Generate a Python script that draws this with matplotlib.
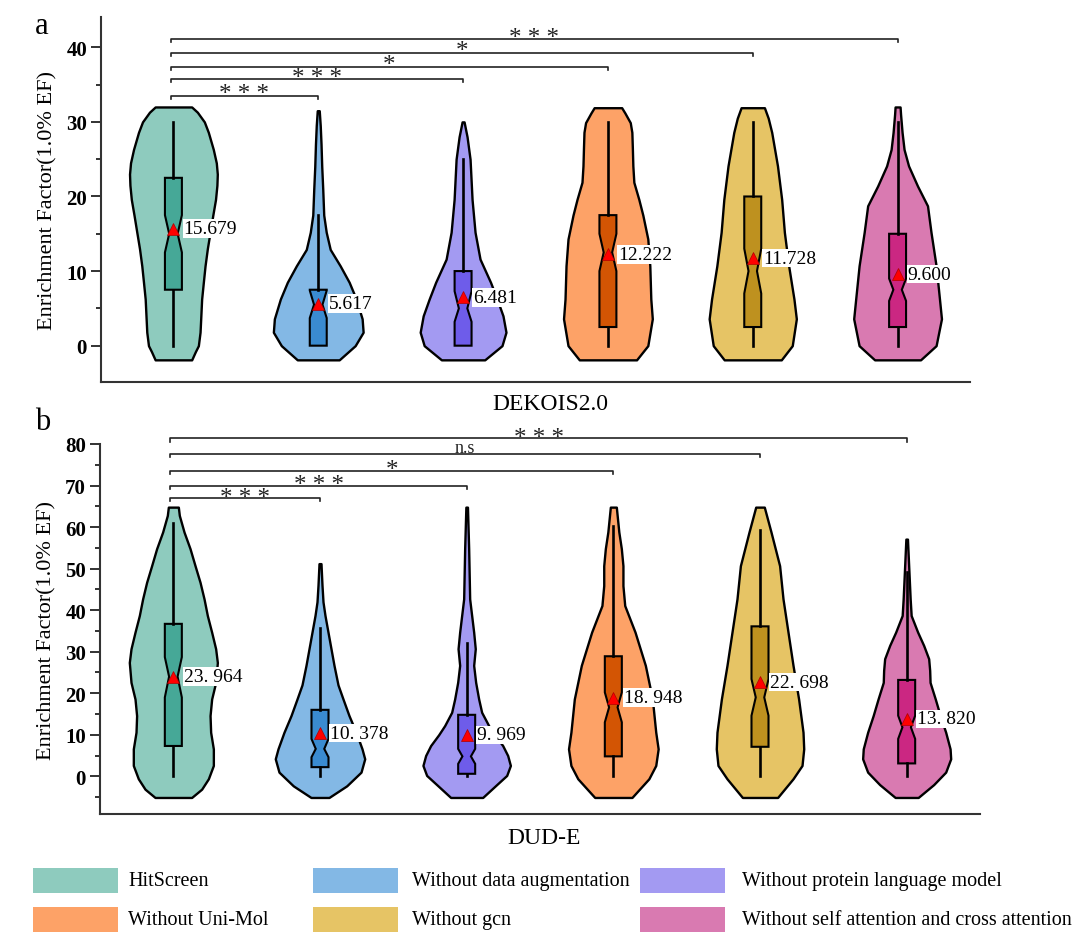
import matplotlib
matplotlib.use("Agg")
import matplotlib.pyplot as plt
from matplotlib.patches import Rectangle
from matplotlib.ticker import MultipleLocator
from matplotlib.textpath import TextPath
from matplotlib.font_manager import FontProperties

plt.rcParams['font.family'] = ['Liberation Serif', 'DejaVu Serif']

# ---------------- data ----------------
groups = ['HitScreen', 'Without data augmentation', 'Without protein language model',
          'Without Uni-Mol', 'Without gcn', 'Without self attention and cross attention']
violin_colors = ['#8ECBBE', '#83B8E5', '#A39AF2', '#FDA267', '#E6C465', '#D97AB1']
box_colors = ['#46A897', '#3A8BD0', '#6E5CEA', '#D35504', '#BE911F', '#CB2782']

# Panel a: DEKOIS2.0
a_means = [15.679, 5.617, 6.481, 12.222, 11.728, 9.600]
a_med = [15.0, 5.5, 5.0, 12.5, 10.0, 7.5]
a_q1 = [7.5, 0.0, 0.0, 2.5, 2.5, 2.5]
a_q3 = [22.5, 7.5, 10.0, 17.5, 20.0, 15.0]
a_whislo = [0, 0, 0, 0, 0, 0]
a_whishi = [30.0, 17.5, 25.0, 30.0, 30.0, 30.0]
a_cilo = [12.5, 3.7, 3.2, 10.0, 7.0, 6.0]
a_cihi = [17.5, 7.4, 7.3, 15.0, 13.0, 9.0]

# violin outlines (y level, relative density)
a_vy = [
    [-1.9, -0.8, 0, 1.8, 4, 6.25, 8.5, 10.7, 13, 15.2, 17.5, 19.6, 21.5, 23, 24.5, 26.3, 28.6, 30.0, 31.3, 32.0],
    [-1.9, 0, 1.8, 3.6, 6.25, 8.5, 10.7, 12.9, 15.2, 17.5, 21, 24, 27, 29.5, 31.5],
    [-1.9, 0, 1.8, 4.0, 6.25, 8.5, 11.6, 15.2, 19.6, 25, 28, 30],
    [-1.9, 0, 3.6, 6.25, 10.7, 14.3, 17.5, 19.6, 21.9, 24.1, 26.5, 28.6, 29.9, 31.2, 31.9],
    [-1.9, 0, 3.6, 6.25, 10.7, 15.2, 19.6, 24.1, 28.6, 30.5, 31.9],
    [-1.9, 0, 3.6, 6.25, 10.7, 15.2, 18.75, 21.4, 24.1, 26.3, 28.6, 31, 32],
]
a_vw = [
    [18.3, 22, 25, 26.7, 27.5, 28.3, 30, 31.7, 34, 36.7, 39.5, 42.2, 43.6, 44, 43, 40, 35, 31, 24, 18.3],
    [21, 37, 45, 44, 38, 31, 22, 12, 8, 5.5, 4.5, 3.5, 2.8, 2, 1.0],
    [21.7, 39, 43, 40, 34, 27.5, 17, 12, 9, 7, 4, 1],
    [28.7, 40, 44.5, 43, 42, 40, 35, 31, 26, 25, 24.5, 24, 22.4, 17, 13.8],
    [28.6, 39.6, 43.7, 41.3, 36, 31.7, 29, 24.8, 19, 15.5, 11.7],
    [23, 38.6, 44, 42, 38.6, 33.5, 30, 20, 11, 6.5, 4.5, 3, 2.5],
]

# Panel b: DUD-E
b_means = [23.964, 10.378, 9.969, 18.948, 22.698, 13.820]
b_med = [24.0, 6.6, 4.8, 16.6, 19.0, 11.8]
b_q1 = [7.3, 2.2, 0.6, 4.8, 7.1, 3.1]
b_q3 = [36.7, 16.0, 14.8, 28.9, 36.1, 23.2]
b_whislo = [0, 0, 0, 0, 0, 0]
b_whishi = [61.0, 35.6, 32.0, 60.2, 59.4, 49.1]
b_cilo = [19.0, 4.6, 3.0, 13.0, 14.6, 9.0]
b_cihi = [28.7, 9.0, 6.6, 20.2, 23.4, 14.6]

b_vy = [
    [-5.1, -3.1, -0.6, 2.6, 6.6, 10.6, 14.6, 18.6, 22.6, 27.4, 30.7, 34.7, 38.7, 42.7, 46.7, 50.7, 54.8, 58.8, 62.8, 64.8],
    [-5.1, -2.3, 1.0, 4.2, 6.6, 10.6, 14.6, 18.6, 22, 26.7, 30.7, 34.7, 38.7, 42, 46, 51.2],
    [-5.1, -2.0, 0.2, 2.6, 5, 7.4, 10, 12.2, 15.4, 18.6, 22.6, 26.7, 30.7, 34.7, 42.7, 54.8, 64.8],
    [-5.1, -0.6, 2.6, 6.6, 10.6, 18.6, 26.7, 34.7, 41.1, 45.9, 50.7, 54.8, 58.8, 64.8],
    [-5.1, -0.6, 2.6, 6.6, 10.6, 18.6, 26.7, 34.7, 42.7, 50.7, 58.8, 64.8],
    [-5.1, -2, 1.0, 4.2, 6.6, 10.6, 14.6, 18.6, 22.6, 25.5, 28.3, 31.5, 34.7, 38.7, 42.7, 50.7, 57.1],
]
b_vw = [
    [18.3, 28.3, 35, 40, 40, 37.3, 36.7, 38.3, 42.3, 44, 42.3, 38.3, 34, 30.7, 26.7, 21.7, 16.7, 10.7, 6, 5],
    [9, 26.7, 41, 44.7, 42, 36, 29, 23, 18, 14, 11, 8, 5, 3, 2, 1],
    [16, 30, 40, 43.7, 41, 36, 28, 22, 15, 12, 9, 7, 8.6, 7, 3, 2, 0.8],
    [18.6, 35.5, 42.4, 44.8, 42.4, 39, 32, 21.7, 11.4, 9.6, 9.6, 8, 5.5, 3],
    [17.6, 33, 42, 43.7, 43, 38.6, 33, 28, 23, 19.6, 11, 4.3],
    [11.5, 27, 39, 44, 43.4, 39, 33.5, 28.6, 23.4, 23, 22, 17, 11, 4.5, 3.5, 2, 0.8],
]

# significance comparisons (HitScreen vs. each other group)
a_sig_labels = ['* * *', '* * *', '*', '*', '* * *']
a_sig_heights = [33.5, 35.75, 37.4, 39.3, 41.1]
b_sig_labels = ['* * *', '* * *', '*', 'n.s', '* * *']
b_sig_heights = [67.0, 70.0, 73.6, 77.7, 81.4]

# legend layout: columns of group indices
legend_cols = [[0, 3], [1, 4], [2, 5]]

# ---------------- drawing ----------------
positions = [1, 2, 3, 4, 5, 6]
W, H = 1080, 953
fig = plt.figure(figsize=(W / 100, H / 100), dpi=100)


def fx(x):
    return x / W


def fy(y):
    return 1 - y / H


STAR_FS = 18
NS_FS = 13
_fp = FontProperties(family='Liberation Serif')


def ink_bottom(s, size):
    return TextPath((0, 0), s, size=size, prop=_fp).get_extents().y0


ax_a = fig.add_axes([fx(101), fy(383), fx(970) - fx(101), fy(18) - fy(383)])
ax_b = fig.add_axes([fx(100), fy(815), fx(980) - fx(100), fy(445) - fy(815)])


def draw_panel(ax, vy, vw, means, med, q1, q3, wlo, whi, cilo, cihi, ppu, ylim,
               sig_labels, sig_heights, tick_len, star_gap_pt, ns_gap_pt, fmt,
               xlabel, xlab_x, xlab_y):
    vpstats, widths = [], []
    for i in range(6):
        vpstats.append(dict(coords=vy[i], vals=vw[i], mean=means[i], median=med[i],
                            min=min(vy[i]), max=max(vy[i])))
        widths.append(2 * max(vw[i]) / ppu)
    parts = ax.violin(vpstats, positions=positions, widths=widths,
                      showmeans=False, showextrema=False, showmedians=False)
    for body, c in zip(parts['bodies'], violin_colors):
        body.set_facecolor(c)
        body.set_edgecolor('black')
        body.set_linewidth(1.7)
        body.set_alpha(1)
        body.set_zorder(1)
        body.set_joinstyle('round')

    bstats = [dict(med=med[i], q1=q1[i], q3=q3[i], whislo=wlo[i], whishi=whi[i],
                   cilo=cilo[i], cihi=cihi[i], mean=means[i], fliers=[]) for i in range(6)]
    bp = ax.bxp(bstats, positions=positions, widths=17.0 / ppu, shownotches=True,
                showmeans=True, showcaps=False, showfliers=False, patch_artist=True,
                manage_ticks=False,
                boxprops=dict(linewidth=1.5, edgecolor='black'),
                whiskerprops=dict(linewidth=1.9, color='black'),
                medianprops=dict(linewidth=0),
                meanprops=dict(marker='^', markerfacecolor='#FF0000', markeredgecolor='#B00000',
                               markersize=9, markeredgewidth=0.5),
                zorder=3)
    for patch, c in zip(bp['boxes'], box_colors):
        patch.set_facecolor(c)
    for m in bp['means']:
        m.set_zorder(6)

    for i in range(6):
        ax.text(positions[i] + 0.07, means[i], fmt(means[i]), fontsize=14, ha='left', va='center',
                bbox=dict(facecolor='white', edgecolor='none', pad=0.6), zorder=5)

    for j, (lab, h) in enumerate(zip(sig_labels, sig_heights)):
        x0 = positions[0] - 0.02
        x1 = positions[j + 1]
        ax.plot([x0, x0, x1, x1], [h - tick_len, h, h, h - tick_len], color='#222222',
                lw=1.2, clip_on=False, zorder=4)
        is_star = '*' in lab
        fs = STAR_FS if is_star else NS_FS
        gap = star_gap_pt if is_star else ns_gap_pt
        dy = gap - ink_bottom(lab, fs)
        ax.annotate(lab, xy=((x0 + x1) / 2, h), xytext=(0, dy),
                    textcoords='offset points', ha='center', va='baseline',
                    fontsize=fs, color='#222222', annotation_clip=False)

    ax.set_xlim(0.5, 6.5)
    ax.set_ylim(*ylim)
    ax.set_xticks([])
    ax.yaxis.set_major_locator(MultipleLocator(10))
    ax.yaxis.set_minor_locator(MultipleLocator(5))
    ax.tick_params(axis='y', which='major', length=7, width=1.3, direction='out',
                   labelsize=15, pad=3, color='#222222')
    ax.tick_params(axis='y', which='minor', length=3.5, width=1.3, direction='out', color='#222222')
    for lbl in ax.get_yticklabels():
        lbl.set_fontweight('bold')
    for s in ['top', 'right']:
        ax.spines[s].set_visible(False)
    for s in ['left', 'bottom']:
        ax.spines[s].set_linewidth(1.5)
        ax.spines[s].set_color('#333333')
    ax.set_ylabel('Enrichment Factor(1.0% EF)', fontsize=16, labelpad=6)
    ax.set_xlabel(xlabel, fontsize=17)
    ax.xaxis.set_label_coords(xlab_x, xlab_y)
    ax.set_facecolor('none')


draw_panel(ax_a, a_vy, a_vw, a_means, a_med, a_q1, a_q3, a_whislo, a_whishi, a_cilo, a_cihi,
           145.2, (-4.87, 44.06), a_sig_labels, a_sig_heights, 0.45, 1.9, 1.1,
           lambda v: f"{v:.3f}", 'DEKOIS2.0', (550 - 101) / 869, (383 - 394) / 365)
draw_panel(ax_b, b_vy, b_vw, b_means, b_med, b_q1, b_q3, b_whislo, b_whishi, b_cilo, b_cihi,
           146.6, (-9.08, 80), b_sig_labels, b_sig_heights, 0.8, 1.1, 1.1,
           lambda v: f"{v:.3f}".replace('.', '. '), 'DUD-E', (544 - 100) / 880, (815 - 828) / 370)

fig.text(fx(42), fy(27), 'a', fontsize=22, ha='center', va='center')
fig.text(fx(43), fy(423), 'b', fontsize=22, ha='center', va='center')

# legend
patch_x = [33, 313, 640]
text_x = [128, 412, 742]
row_y = [869, 908]
for c, col in enumerate(legend_cols):
    for r, gi in enumerate(col):
        fig.add_artist(Rectangle((fx(patch_x[c]), fy(row_y[r] + 25)), fx(85), 25 / H,
                                 transform=fig.transFigure, facecolor=violin_colors[gi],
                                 edgecolor='none'))
        fig.text(fx(text_x[c]), fy(row_y[r] + 12.5), groups[gi], fontsize=14.5,
                 ha='left', va='center')

fig.savefig('out.png', dpi=100)
